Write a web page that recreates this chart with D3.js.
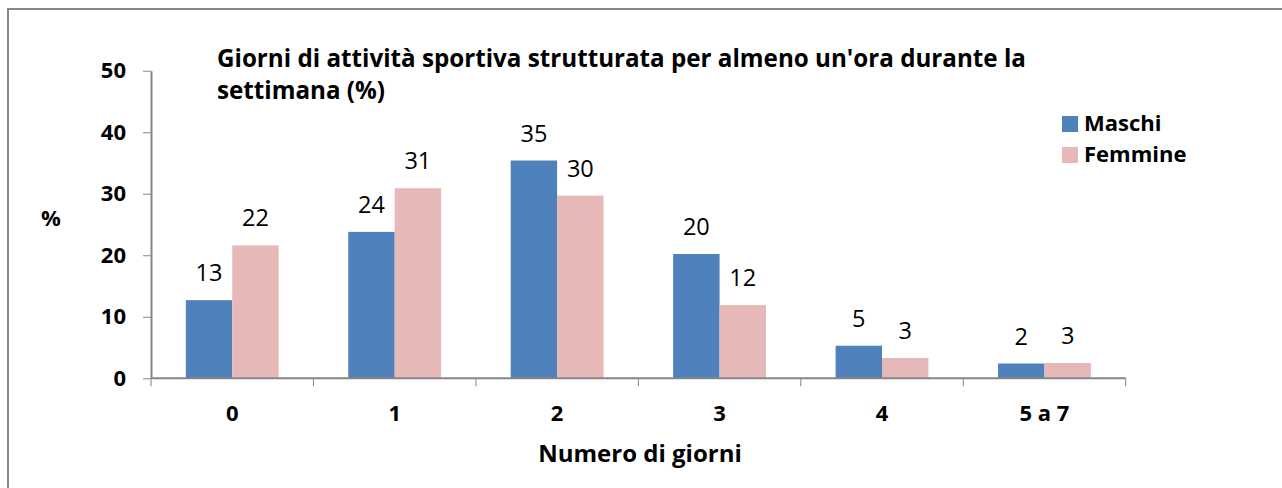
<!DOCTYPE html>
<html>
<head>
<meta charset="utf-8">
<script src="https://cdn.jsdelivr.net/npm/d3@7"></script>
<style>
  body { margin: 0; background: #fff; }
  text { font-family: "Open Sans", Lato, sans-serif; fill: #000; }
  .axis path, .axis line { stroke: #868686; }
</style>
</head>
<body>
<div id="visContainer"></div>
<script>
'use strict';

// data
var categories = ['0', '1', '2', '3', '4', '5 a 7'];
var seriesNames = ['Maschi', 'Femmine'];
var maschi = [12.7, 23.8, 35.4, 20.2, 5.3, 2.4];
var femmine = [21.6, 30.9, 29.7, 11.9, 3.3, 2.5];
var yTicks = [0, 10, 20, 30, 40, 50];

var width = 1282;
var height = 488;
var colors = { Maschi: '#4f81bd', Femmine: '#e6b9b8' };

var svg = d3.select('#visContainer')
    .append('svg')
    .attr('width', width)
    .attr('height', height);

// outer frame of the chart area
svg.append('rect')
    .attr('x', 8)
    .attr('y', 9)
    .attr('width', width + 10)
    .attr('height', height + 10)
    .style('fill', 'none')
    .style('stroke', '#878787')
    .style('stroke-width', 2);

// scales
var y = d3.scaleLinear()
    .domain([0, 50])
    .range([378.3, 70.7]);

var x = d3.scaleBand()
    .domain(categories)
    .range([151, 1125.7]);

var xSub = d3.scaleBand()
    .domain(seriesNames)
    .range([0, x.bandwidth()])
    .paddingInner(0)
    .paddingOuter(0.75);

// build rows for the bars
var rows = categories.map(function(c, i) {
    return [
        { cat: c, name: 'Maschi', value: maschi[i] },
        { cat: c, name: 'Femmine', value: femmine[i] }
    ];
});

// y axis
var yAxis = d3.axisLeft(y)
    .tickValues(yTicks)
    .tickSize(8)
    .tickPadding(17)
    .tickSizeOuter(0);

svg.append('g')
    .attr('class', 'axis')
    .attr('transform', 'translate(151,0)')
    .call(yAxis)
    .call(function(g) {
        g.selectAll('text')
            .style('font-family', '"Open Sans", sans-serif')
            .style('font-size', '22px')
            .style('font-weight', 'bold')
            .attr('fill', '#000');
        g.select('.domain').style('stroke-width', 2);
    });

// bars
var groups = svg.selectAll('.cat')
    .data(rows)
    .enter()
    .append('g')
    .attr('class', 'cat')
    .attr('transform', function(d) { return 'translate(' + x(d[0].cat) + ',0)'; });

groups.selectAll('rect')
    .data(function(d) { return d; })
    .enter()
    .append('rect')
    .attr('x', function(d) { return xSub(d.name); })
    .attr('y', function(d) { return y(d.value); })
    .attr('width', xSub.bandwidth())
    .attr('height', function(d) { return y(0) - y(d.value); })
    .style('fill', function(d) { return colors[d.name]; });

// value labels above the bars
groups.selectAll('.val')
    .data(function(d) { return d; })
    .enter()
    .append('text')
    .attr('class', 'val')
    .attr('x', function(d) { return xSub(d.name) + xSub.bandwidth() / 2; })
    .attr('y', function(d) { return y(d.value) - 19; })
    .attr('text-anchor', 'middle')
    .style('font-size', '23.5px')
    .text(function(d) { return Math.round(d.value); });

// x axis: line, ticks at band edges, labels at centers
var xg = svg.append('g').attr('class', 'axis');

xg.append('line')
    .attr('x1', 151)
    .attr('x2', x.range()[1])
    .attr('y1', y(0))
    .attr('y2', y(0))
    .style('stroke-width', 2);

var edges = categories.map(function(c) { return x(c); }).concat([x.range()[1]]);
xg.selectAll('.tick')
    .data(edges)
    .enter()
    .append('line')
    .attr('x1', function(d) { return d; })
    .attr('x2', function(d) { return d; })
    .attr('y1', y(0))
    .attr('y2', y(0) + 8);

xg.selectAll('.xl')
    .data(categories)
    .enter()
    .append('text')
    .attr('class', 'xl')
    .attr('x', function(d) { return x(d) + x.bandwidth() / 2; })
    .attr('y', 420.7)
    .attr('text-anchor', 'middle')
    .style('font-size', '22px')
    .style('font-weight', 'bold')
    .text(function(d) { return d; });

// axis titles
svg.append('text')
    .attr('x', 640)
    .attr('y', 461.5)
    .attr('text-anchor', 'middle')
    .style('font-size', '24px')
    .style('font-weight', 'bold')
    .text('Numero di giorni');

svg.append('text')
    .attr('x', 51)
    .attr('y', 226)
    .attr('text-anchor', 'middle')
    .style('font-size', '22px')
    .style('font-weight', 'bold')
    .text('%');

// chart title, two lines
var title = svg.append('text')
    .attr('x', 217)
    .style('font-size', '24.2px')
    .style('font-weight', 'bold');
title.append('tspan').attr('x', 217).attr('y', 67)
    .text("Giorni di attività sportiva strutturata per almeno un'ora durante la");
title.append('tspan').attr('x', 217).attr('y', 99)
    .text('settimana (%)');

// legend
var legend = svg.selectAll('.legend')
    .data(seriesNames)
    .enter()
    .append('g')
    .attr('class', 'legend')
    .attr('transform', function(d, i) { return 'translate(1062,' + (116 + i * 31) + ')'; });

legend.append('rect')
    .attr('width', 16)
    .attr('height', 16)
    .style('fill', function(d) { return colors[d]; });

legend.append('text')
    .attr('x', 22)
    .attr('y', 15)
    .style('font-size', '22px')
    .style('font-weight', 'bold')
    .text(function(d) { return d; });
</script>
</body>
</html>
